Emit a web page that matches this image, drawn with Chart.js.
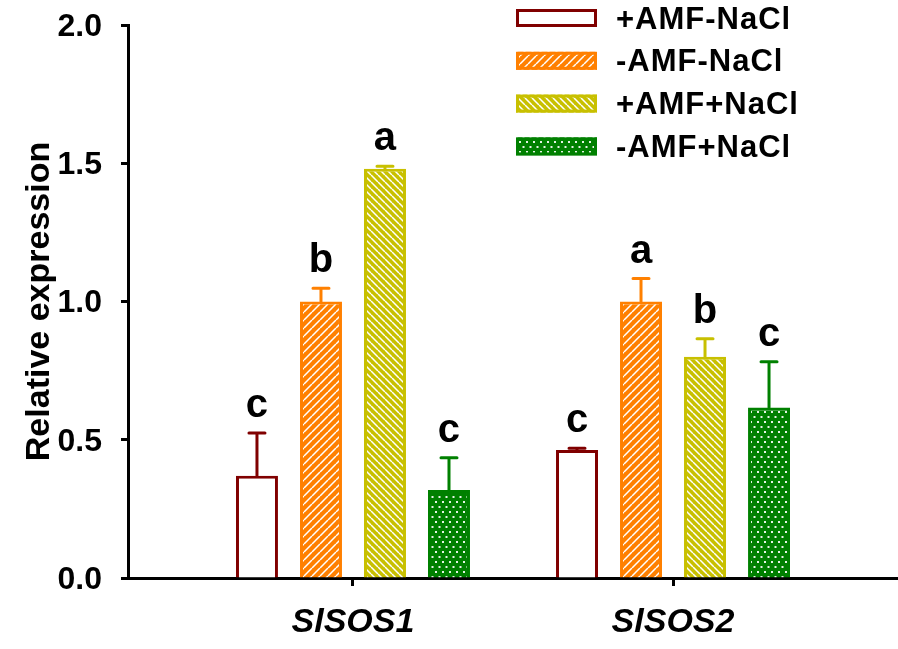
<!DOCTYPE html>
<html lang="en">
  <head>
    <meta charset="UTF-8" />
    <meta name="viewport" content="width=device-width, initial-scale=1.0" />
    <script src="https://cdn.jsdelivr.net/npm/chart.js@4.4.1/dist/chart.umd.min.js"></script>
    <title>SlSOS relative expression</title>
    <style>
      body {
        margin: 0;
        background: #fff;
      }
      .canvas-container {
        position: relative;
        width: 898px;
        height: 649px;
      }
    </style>
  </head>
  <body>
    <div class="canvas-container">
      <canvas id="myChart" width="898" height="649"></canvas>
    </div>

    <script>
      // values
      const genes = ["SlSOS1", "SlSOS2"];
      const treatments = ["+AMF-NaCl", "-AMF-NaCl", "+AMF+NaCl", "-AMF+NaCl"];

      const amfNoSalt = [0.37, 0.463];
      const noAmfNoSalt = [1.0, 1.0];
      const amfSalt = [1.48, 0.8];
      const noAmfSalt = [0.318, 0.617];

      const errAmfNoSalt = [0.154, 0.006];
      const errNoAmfNoSalt = [0.048, 0.083];
      const errAmfSalt = [0.009, 0.065];
      const errNoAmfSalt = [0.117, 0.165];

      const lettersAmfNoSalt = ["c", "c"];
      const lettersNoAmfNoSalt = ["b", "a"];
      const lettersAmfSalt = ["a", "b"];
      const lettersNoAmfSalt = ["c", "c"];

      const yTicks = [0, 0.5, 1.0, 1.5, 2.0];

      const FONT = "'Liberation Sans', Arial, Helvetica, sans-serif";
      Chart.defaults.font.family = FONT;
      Chart.defaults.color = "#000";

      function stripes(color, period, dir) {
        const c = document.createElement("canvas");
        c.width = period;
        c.height = period;
        const g = c.getContext("2d");
        g.fillStyle = color;
        g.fillRect(0, 0, period, period);
        g.strokeStyle = "#fff";
        g.lineWidth = 1.5;
        g.beginPath();
        for (const o of [-period, 0, period]) {
          if (dir === "/") {
            g.moveTo(o, period);
            g.lineTo(o + period, 0);
          } else {
            g.moveTo(o, 0);
            g.lineTo(o + period, period);
          }
        }
        g.stroke();
        return g.createPattern(c, "repeat");
      }

      function dots(color) {
        const c = document.createElement("canvas");
        c.width = 7;
        c.height = 10;
        const g = c.getContext("2d");
        g.fillStyle = color;
        g.fillRect(0, 0, 7, 10);
        g.fillStyle = "rgba(255,255,255,0.9)";
        g.fillRect(1, 1, 2, 2);
        g.fillRect(4.5, 6, 2, 2);
        return g.createPattern(c, "repeat");
      }

      function toPoints(values) {
        return values.map((v, i) => ({ x: i + 1, y: v }));
      }

      const datasets = [
        {
          label: treatments[0],
          data: toPoints(amfNoSalt),
          errors: errAmfNoSalt,
          letters: lettersAmfNoSalt,
          backgroundColor: "#fff",
          borderColor: "#800000",
        },
        {
          label: treatments[1],
          data: toPoints(noAmfNoSalt),
          errors: errNoAmfNoSalt,
          letters: lettersNoAmfNoSalt,
          backgroundColor: stripes("#ff8000", 8, "/"),
          borderColor: "#ff8000",
        },
        {
          label: treatments[2],
          data: toPoints(amfSalt),
          errors: errAmfSalt,
          letters: lettersAmfSalt,
          backgroundColor: stripes("#c8c000", 7, "\\"),
          borderColor: "#c8c000",
        },
        {
          label: treatments[3],
          data: toPoints(noAmfSalt),
          errors: errNoAmfSalt,
          letters: lettersNoAmfSalt,
          backgroundColor: dots("#008000"),
          borderColor: "#008000",
        },
      ];
      datasets.forEach((d) => {
        d.borderWidth = 3;
        d.categoryPercentage = 0.8;
        d.barPercentage = 0.656;
      });

      // error bars + significance letters
      const errorBars = {
        id: "errorBars",
        afterDatasetsDraw(chart) {
          const ctx = chart.ctx;
          const y = chart.scales.y;
          chart.data.datasets.forEach((ds, di) => {
            chart.getDatasetMeta(di).data.forEach((bar, i) => {
              const top = y.getPixelForValue(ds.data[i].y + ds.errors[i]);
              ctx.save();
              ctx.strokeStyle = ds.borderColor;
              ctx.lineWidth = 3;
              ctx.lineCap = "round";
              ctx.beginPath();
              ctx.moveTo(bar.x, bar.y);
              ctx.lineTo(bar.x, top);
              ctx.moveTo(bar.x - 8, top);
              ctx.lineTo(bar.x + 8, top);
              ctx.stroke();
              ctx.fillStyle = "#000";
              ctx.font = "bold 40px " + FONT;
              ctx.textAlign = "center";
              ctx.textBaseline = "alphabetic";
              ctx.fillText(ds.letters[i], bar.x, top - 16);
              ctx.restore();
            });
          });
        },
      };

      // legend drawn over the top right of the plot
      const boxLegend = {
        id: "boxLegend",
        afterDraw(chart) {
          const ctx = chart.ctx;
          chart.data.datasets.forEach((ds, i) => {
            const cy = 18 + i * 42.8;
            ctx.save();
            ctx.fillStyle = ds.backgroundColor;
            ctx.fillRect(516, cy - 9, 81, 18);
            ctx.strokeStyle = ds.borderColor;
            ctx.lineWidth = 3;
            ctx.strokeRect(517.5, cy - 7.5, 78, 15);
            ctx.fillStyle = "#000";
            ctx.font = "bold 31px " + FONT;
            ctx.letterSpacing = "1px";
            ctx.textAlign = "left";
            ctx.textBaseline = "middle";
            ctx.fillText(ds.label, 616, cy + 2);
            ctx.restore();
          });
        },
      };

      const ctx = document.getElementById("myChart").getContext("2d");
      const myChart = new Chart(ctx, {
        type: "bar",
        data: { datasets },
        options: {
          responsive: false,
          animation: false,
          layout: { padding: { top: 25, left: 0, right: 0, bottom: 0 } },
          plugins: {
            legend: { display: false },
            tooltip: { enabled: false },
          },
          scales: {
            x: {
              type: "linear",
              min: 0.297,
              max: 2.703,
              offset: false,
              afterBuildTicks: (scale) => {
                scale.ticks = genes.map((g, i) => ({ value: i + 1 }));
              },
              afterFit: (scale) => {
                scale.height = 71;
              },
              ticks: {
                padding: 16,
                callback: (v, i) => genes[i],
                font: { size: 34, weight: "bold", style: "italic" },
              },
              grid: {
                offset: false,
                drawOnChartArea: false,
                tickLength: 8,
                tickWidth: 3,
                tickColor: "#000",
              },
              border: { color: "#000", width: 3 },
            },
            y: {
              min: 0,
              max: 2,
              afterBuildTicks: (scale) => {
                scale.ticks = yTicks.map((v) => ({ value: v }));
              },
              afterFit: (scale) => {
                scale.width = 128;
                scale.paddingTop = 0;
                scale.paddingBottom = 0;
              },
              ticks: {
                padding: 19,
                labelOffset: 2,
                callback: (v) => v.toFixed(1),
                font: { size: 32, weight: "bold" },
              },
              grid: {
                drawOnChartArea: false,
                tickLength: 7,
                tickWidth: 3,
                tickColor: "#000",
              },
              border: { color: "#000", width: 3 },
              title: {
                display: true,
                text: "Relative expression",
                font: { size: 34, weight: "bold" },
                padding: { top: 19, bottom: 0 },
              },
            },
          },
        },
        plugins: [errorBars, boxLegend],
      });
    </script>
  </body>
</html>
